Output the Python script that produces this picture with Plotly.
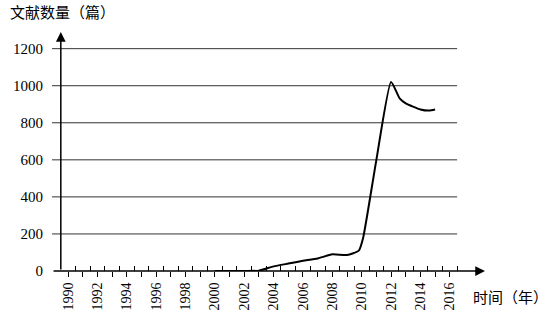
import plotly.graph_objects as go

# data
years = [2000, 2001, 2002, 2003, 2004, 2005, 2006, 2007, 2008, 2009, 2009.8,
         2010.1, 2011, 2012, 2012.6, 2013, 2014, 2014.6, 2015]
counts = [0, 0, 0, 2, 25, 40, 55, 68, 90, 86, 110,
          180, 600, 1020, 930, 905, 872, 866, 872]

y_ticks = [0, 200, 400, 600, 800, 1000, 1200]
x_major = list(range(1990, 2017))
x_labels = [str(y) if y % 2 == 0 else "" for y in x_major]
x_minor = [y + 0.5 for y in range(1990, 2017)]

x_lo, x_hi = 1988.9, 2018.4
y_axis_x = 1989.5
grid_end = 2016.5
y_top = 1290

serif = "Liberation Serif"
cjk = "Noto Sans CJK SC"

fig = go.Figure()
fig.add_trace(go.Scatter(
    x=years, y=counts, mode="lines",
    line=dict(color="black", width=2, shape="spline", smoothing=0.5),
    cliponaxis=False, showlegend=False,
))

for v in y_ticks[1:]:
    fig.add_shape(type="line", xref="x", yref="y", x0=x_lo, x1=grid_end, y0=v, y1=v,
                  line=dict(color="#333333", width=1), layer="below")

# axes with arrows
fig.add_annotation(x=y_axis_x, y=y_top, ax=y_axis_x, ay=0, xref="x", yref="y",
                   axref="x", ayref="y", text="", showarrow=True, arrowhead=2,
                   arrowsize=1.3, arrowwidth=1.5, arrowcolor="black")
fig.add_annotation(x=x_hi, y=0, ax=x_lo, ay=0, xref="x", yref="y",
                   axref="x", ayref="y", text="", showarrow=True, arrowhead=2,
                   arrowsize=1.3, arrowwidth=1.5, arrowcolor="black")

fig.add_annotation(x=-0.102, y=1.085, xref="paper", yref="paper", xanchor="left", yanchor="middle",
                   text="文献数量（篇）", showarrow=False,
                   font=dict(family=cjk, size=15, color="black"))
fig.add_annotation(x=1.15, y=-0.105, xref="paper", yref="paper", xanchor="right", yanchor="middle",
                   text="时间（年）", showarrow=False,
                   font=dict(family=cjk, size=15, color="black"))

fig.update_layout(
    width=557, height=322,
    margin=dict(l=52, r=72, t=32, b=51),
    paper_bgcolor="white", plot_bgcolor="white",
    font=dict(family=serif, color="black"),
    xaxis=dict(range=[x_lo, x_hi], showgrid=False, zeroline=False, showline=False,
               automargin=False,
               tickmode="array", tickvals=x_major + [grid_end], ticktext=x_labels + [""],
               ticks="outside", ticklen=5, tickwidth=1.3, tickcolor="black",
               tickangle=-90, tickfont=dict(family=serif, size=14, color="black"),
               minor=dict(tickmode="array", tickvals=x_minor, ticks="inside",
                          ticklen=5, tickwidth=1.3, tickcolor="black", showgrid=False)),
    yaxis=dict(range=[0, y_top], showgrid=False, zeroline=False, showline=False,
               automargin=False,
               tickmode="array", tickvals=y_ticks, ticks="",
               ticklabelstandoff=8,
               tickfont=dict(family=serif, size=15, color="black")),
)

fig.write_html("out.html")
